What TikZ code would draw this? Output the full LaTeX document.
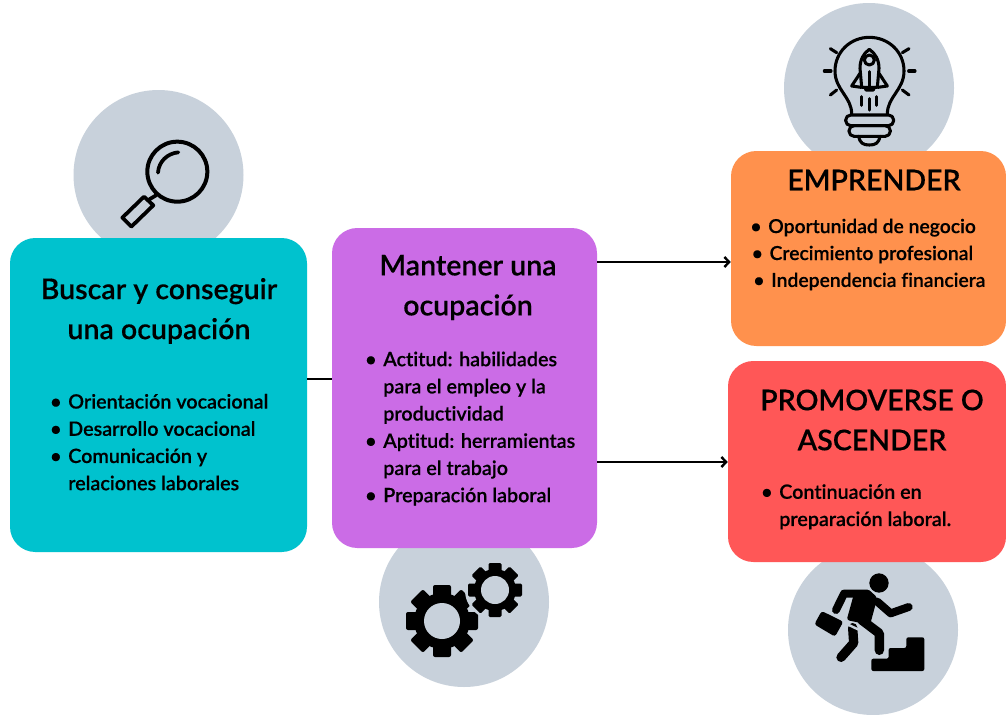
\documentclass[tikz,border=0pt]{standalone}
\usepackage{fontspec}
\setmainfont[Ligatures=CommonOff,BoldFont={Lato Semibold},BoldFeatures={FakeBold=0.3}]{Lato}
\usetikzlibrary{arrows.meta}
\definecolor{cteal}{HTML}{00C2CE}
\definecolor{cpurple}{HTML}{CB6CE6}
\definecolor{corange}{HTML}{FF914D}
\definecolor{cred}{HTML}{FF5757}
\definecolor{cgrey}{HTML}{C8D1DB}
\newcommand{\bl}{\llap{•\hspace{5pt}}}
\tikzset{
  x=.75pt,y=-.75pt,
  cardbox/.style={draw=none,inner sep=0,rounded corners=19pt},
  disc/.style={circle,fill=cgrey,draw=none,inner sep=0,minimum size=127.5pt},
  head/.style={inner sep=0,align=center,font=\fontsize{21.4}{30}\selectfont\bfseries},
  body/.style={inner sep=0,align=left,font=\fontsize{14.8}{20.4}\selectfont\bfseries},
  conn/.style={line width=1.8pt,black},
  arrowconn/.style={conn,-{Straight Barb[length=3.5pt,width=7.5pt,line width=1.8pt]}},
  icon/.style={line width=2.3pt,line cap=round,line join=round,black},
}
\begin{document}
\begin{tikzpicture}
\useasboundingbox (0,0) rectangle (1006,714);
\fill[white] (0,0) rectangle (1006,714);
% discs
\node[disc] (d1) at (158.5,175) {};
\node[disc] (d2) at (869,88) {};
\node[disc] (d3) at (464,602) {};
\node[disc] (d4) at (873,630) {};
% magnifier
\begin{scope}[shift={(70,90)},x=.25pt,y=-.25pt]
  \draw[icon,line width=3pt] (322,245) circle (90);
  \draw[icon,line width=2.8pt] (264,248) .. controls (266,215) and (292,190) .. (325,187);
  \draw[icon,line width=2.8pt] (258,316) -- (238,328);
  \draw[icon,line width=2.8pt] (222,320) -- (250,346) -- (184,410) -- (157,383) -- cycle;
\end{scope}
% lamp
\begin{scope}[shift={(780,0)},x=.25pt,y=-.25pt]
  \draw[icon] (215,342) .. controls (215,290) and (165,270) .. (165,213) .. controls (165,155) and (212,112) .. (268,112) .. controls (325,112) and (372,155) .. (372,213) .. controls (372,270) and (322,290) .. (322,342);
  \draw[icon,rounded corners=3.8pt] (197,345) rectangle (341,377);
  \draw[icon,rounded corners=3.8pt] (207,377) rectangle (331,409);
  \draw[icon] (236,409) .. controls (240,430) and (250,435) .. (268,435) .. controls (286,435) and (296,430) .. (300,409);
  \foreach \a/\b/\c/\d in {133/213/153/213,386/213/405/213,151/146/170/158,387/146/367/158,151/285/170/270,387/285/367/270}
    \draw[icon] (\a,\b) -- (\c,\d);
  \draw[icon] (268,148) .. controls (250,160) and (240,180) .. (240,205) -- (245,262) -- (292,262) -- (297,205) .. controls (297,180) and (286,160) .. (268,148) -- cycle;
  \draw[icon] (268,180) circle (15);
  \draw[icon] (240,220) -- (215,258) -- (243,262);
  \draw[icon] (297,220) -- (322,258) -- (294,262);
  \draw[icon] (268,215) -- (268,262);
  \draw[icon] (255,262) -- (258,270) -- (280,270) -- (283,262);
  \draw[icon] (245,290) -- (245,316);
  \draw[icon] (268,296) -- (268,330);
  \draw[icon] (290,290) -- (290,316);
\end{scope}
% gears
\begin{scope}[shift={(442,621)}]
  \fill[black] (0,0) circle (28);
  \foreach \r in {0,45,...,315}
    \fill[black,rotate=\r,rounded corners=1.5pt] (-9,-20) rectangle (9,-36);
  \fill[cgrey] (0,0) circle (18);
\end{scope}
\begin{scope}[shift={(495,590)}]
  \fill[cgrey] (0,0) circle (30);
  \fill[black] (0,0) circle (21);
  \foreach \r in {0,45,...,315}
    \fill[black,rotate=\r,rounded corners=1pt] (-6.5,-15) rectangle (6.5,-27);
  \fill[cgrey] (0,0) circle (14);
\end{scope}
% runner
\begin{scope}[shift={(780,555)},x=.25pt,y=-.25pt]
  \fill[black] (297,84) circle (29);
  \fill[black,rounded corners=2pt] (225,105) -- (268,105) -- (292,128) -- (270,210) -- (200,195) -- cycle;
  \draw[black,line width=6pt,line cap=round,line join=round] (262,116) -- (192,116) -- (168,165);
  \draw[black,line width=6pt,line cap=round,line join=round] (292,140) -- (332,175) -- (386,156);
  \draw[black,line width=7pt,line cap=round,line join=round] (245,195) -- (298,235) -- (298,286);
  \draw[black,line width=7pt,line cap=round,line join=round] (218,218) -- (221,264) -- (183,307);
  \fill[cgrey] (196,201) -- (240,222) -- (236,228) -- (194,208) -- cycle;
  \fill[black,rounded corners=2pt] (125,168) -- (190,200) -- (165,245) -- (103,208) -- cycle;
  \fill[black,rounded corners=1.5pt] (274,311) -- (326,311) -- (326,279) -- (379,279) -- (379,247) -- (433,247) -- (433,348) -- (274,348) -- cycle;
\end{scope}
% cards
\node[cardbox,fill=cteal,minimum width=222.75pt,minimum height=235.5pt] (a) at (158.5,395) {};
\node[cardbox,fill=cpurple,minimum width=198.75pt,minimum height=240pt] (b) at (464.5,388) {};
\node[cardbox,fill=corange,minimum width=206.25pt,minimum height=146.25pt] (c) at (868.5,248.5) {};
\node[cardbox,fill=cred,minimum width=208.5pt,minimum height=150.75pt] (d) at (867,461.5) {};
% connectors
\coordinate (ab) at (320,379);
\coordinate (bc) at (660,262);
\coordinate (bd) at (660,462);
\draw[conn] (a.east |- ab) -- (b.west |- ab);
\draw[arrowconn] (b.east |- bc) -- (c.west |- bc);
\draw[arrowconn] (b.east |- bd) -- (d.west |- bd);
% text
\node[head] (ta) at (159,311) {Buscar y conseguir\\una ocupación};
\node[body,anchor=north west] (ba) at (68,393.7) {\bl Orientación vocacional\\\bl Desarrollo vocacional\\\bl Comunicación y\\relaciones laborales};
\node[head] (tb) at (468,287.5) {Mantener una\\ocupación};
\node[body,anchor=north west] (bb) at (383,351.3) {\bl Actitud: habilidades\\para el empleo y la\\productividad\\\bl Aptitud: herramientas\\para el trabajo\\\bl Preparación laboral};
\node[head] (tc) at (874,180) {EMPRENDER};
\node[body,anchor=north west,font=\fontsize{14.5}{20.2}\selectfont\bfseries] (bc1) at (768,218.5) {\bl Oportunidad de negocio\\\hspace{1pt}\bl Crecimiento profesional\\\hspace{2.2pt}\bl Independencia financiera};
\node[head] (td) at (872,420) {PROMOVERSE O\\ASCENDER};
\node[body,anchor=north west] (bd1) at (779,484) {\bl Continuación en\\preparación laboral.};
\end{tikzpicture}
\end{document}
